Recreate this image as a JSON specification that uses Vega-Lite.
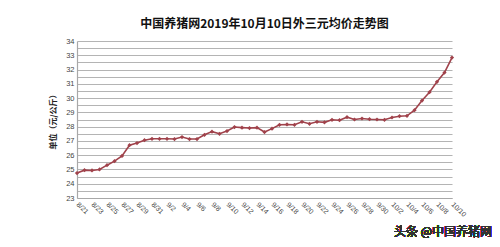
{
  "$schema": "https://vega.github.io/schema/vega-lite/v6.json",
  "autosize": {"type": "none"},
  "width": 375,
  "height": 157,
  "padding": {"left": 77, "top": 41, "right": 48, "bottom": 49},
  "background": "#ffffff",
  "title": {
    "text": "中国养猪网2019年10月10日外三元均价走势图",
    "font": "Noto Sans CJK SC",
    "fontSize": 12,
    "fontWeight": "bold",
    "color": "#111111",
    "anchor": "middle",
    "offset": 6
  },
  "config": {
    "view": {"stroke": null},
    "axis": {"labelFont": "Liberation Sans", "titleFont": "Noto Sans CJK SC"}
  },
  "data": {
    "values": [
      {"d": "8/21", "v": 24.75}, {"d": "8/22", "v": 24.95}, {"d": "8/23", "v": 24.93},
      {"d": "8/24", "v": 25.0}, {"d": "8/25", "v": 25.3}, {"d": "8/26", "v": 25.58},
      {"d": "8/27", "v": 25.95}, {"d": "8/28", "v": 26.7}, {"d": "8/29", "v": 26.85},
      {"d": "8/30", "v": 27.05}, {"d": "8/31", "v": 27.15}, {"d": "9/1", "v": 27.15},
      {"d": "9/2", "v": 27.15}, {"d": "9/3", "v": 27.13}, {"d": "9/4", "v": 27.27},
      {"d": "9/5", "v": 27.13}, {"d": "9/6", "v": 27.13}, {"d": "9/7", "v": 27.43},
      {"d": "9/8", "v": 27.65}, {"d": "9/9", "v": 27.5}, {"d": "9/10", "v": 27.69},
      {"d": "9/11", "v": 27.97}, {"d": "9/12", "v": 27.93}, {"d": "9/13", "v": 27.9},
      {"d": "9/14", "v": 27.93}, {"d": "9/15", "v": 27.62}, {"d": "9/16", "v": 27.86},
      {"d": "9/17", "v": 28.13}, {"d": "9/18", "v": 28.15}, {"d": "9/19", "v": 28.13},
      {"d": "9/20", "v": 28.34}, {"d": "9/21", "v": 28.2}, {"d": "9/22", "v": 28.34},
      {"d": "9/23", "v": 28.3}, {"d": "9/24", "v": 28.48}, {"d": "9/25", "v": 28.45},
      {"d": "9/26", "v": 28.66}, {"d": "9/27", "v": 28.5}, {"d": "9/28", "v": 28.57},
      {"d": "9/29", "v": 28.52}, {"d": "9/30", "v": 28.5}, {"d": "10/1", "v": 28.48},
      {"d": "10/2", "v": 28.64}, {"d": "10/3", "v": 28.73}, {"d": "10/4", "v": 28.76},
      {"d": "10/5", "v": 29.15}, {"d": "10/6", "v": 29.83}, {"d": "10/7", "v": 30.41},
      {"d": "10/8", "v": 31.14}, {"d": "10/9", "v": 31.79}, {"d": "10/10", "v": 32.84}
    ]
  },
  "encoding": {
    "x": {
      "field": "d",
      "type": "ordinal",
      "sort": null,
      "scale": {"type": "point", "padding": 0},
      "axis": {
        "title": null,
        "values": ["8/21","8/23","8/25","8/27","8/29","8/31","9/2","9/4","9/6","9/8","9/10","9/12","9/14","9/16","9/18","9/20","9/22","9/24","9/26","9/28","9/30","10/2","10/4","10/6","10/8","10/10"],
        "labelAngle": 45,
        "labelAlign": "left",
        "labelBaseline": "middle",
        "labelFontSize": 7,
        "labelColor": "#444444",
        "labelPadding": 5,
        "ticks": false,
        "domainColor": "#a8a8a8",
        "domainWidth": 1.2,
        "grid": false
      }
    },
    "y": {
      "field": "v",
      "type": "quantitative",
      "scale": {"domain": [23, 34], "nice": false, "zero": false},
      "axis": {
        "title": "单位（元/公斤）",
        "titleFontSize": 8,
        "titleFontWeight": "bold",
        "titleColor": "#222222",
        "titlePadding": 8,
        "values": [23,23.5,24,24.5,25,25.5,26,26.5,27,27.5,28,28.5,29,29.5,30,30.5,31,31.5,32,32.5,33,33.5,34],
        "format": "~g",
        "labelFontSize": 7.5,
        "labelColor": "#444444",
        "labelPadding": 3,
        "ticks": false,
        "domainColor": "#a8a8a8",
        "domainWidth": 1.2,
        "grid": true,
        "gridColor": "#b4b4b4",
        "gridWidth": 1.2
      }
    }
  },
  "layer": [
    {
      "mark": {"type": "line", "color": "#a0424b", "strokeWidth": 1.6}
    },
    {
      "mark": {"type": "point", "shape": "diamond", "filled": true, "color": "#a0424b", "size": 18, "opacity": 1}
    },
    {
      "mark": {"type": "text", "text": "头条 @中国养猪网", "font": "Noto Sans CJK SC", "fontSize": 12, "color": "#333333", "align": "right", "baseline": "middle", "dx": 40},
      "encoding": {
        "x": {"datum": "10/10"},
        "y": {"datum": 20.64}
      }
    }
  ]
}
